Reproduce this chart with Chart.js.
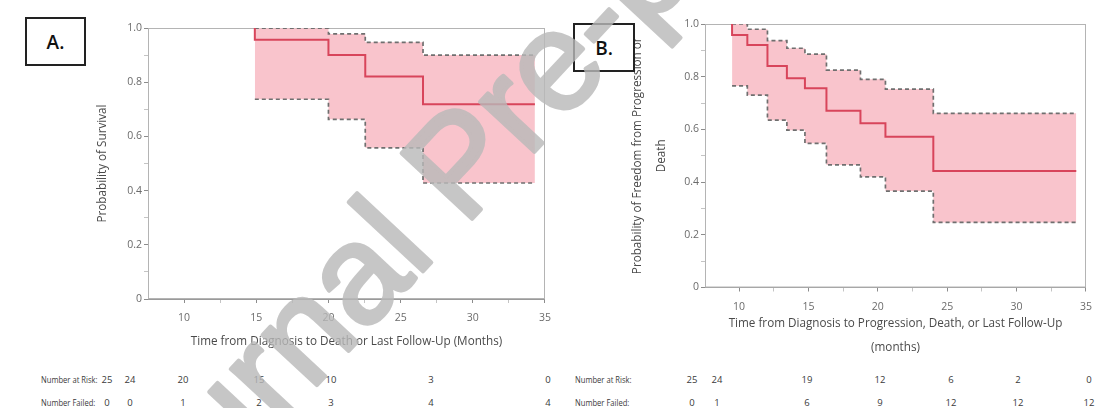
<!DOCTYPE html>
<html>
<head>
<meta charset="utf-8">
<script src="https://cdn.jsdelivr.net/npm/chart.js@4.4.0/dist/chart.umd.min.js"></script>
<style>
  body { margin: 0; background: #fff; width: 1101px; height: 408px; overflow: hidden; position: relative; font-family: "Open Sans", sans-serif; }
  canvas { position: absolute; top: 0; }
  #chartA { left: 0; }
  #chartB { left: 560px; }
  .tag { position: absolute; box-sizing: border-box; border: 2px solid #222; background: #fff;
         display: flex; align-items: center; justify-content: center; font-size: 19px; font-weight: 600; color: #111; }
  .cell { position: absolute; font-size: 9.5px; color: #3a3a3a; white-space: nowrap; transform: translate(-50%, -50%); }
  .rowlab { position: absolute; font-size: 9.5px; color: #3a3a3a; white-space: nowrap;
            transform-origin: 0 50%; transform: translateY(-50%) scaleX(0.8); }
  #mark { position: absolute; left: 0; top: 0; pointer-events: none; opacity: 0.8; }
</style>
</head>
<body>
<canvas id="chartA" width="560" height="360"></canvas>
<canvas id="chartB" width="541" height="360"></canvas>
<div class="tag" style="left:25px;top:17px;width:61px;height:49px">A.</div>
<div class="tag" style="left:573px;top:23px;width:62px;height:49px">B.</div>
<div id="tables"></div>
<canvas id="mark" width="1101" height="408"></canvas>
<script>
// A: overall survival (Kaplan-Meier estimate + 95% band)
const timeA = [14.9, 14.9, 20.0, 22.55, 26.55, 34.3];
const survA = [1.0, 0.957, 0.900, 0.821, 0.719, 0.719];
const bandTimeA = [14.9, 20.0, 22.55, 26.55, 34.3];
const upperA = [0.999, 0.978, 0.947, 0.900, 0.900];
const lowerA = [0.737, 0.663, 0.558, 0.428, 0.428];

// B: freedom from progression or death
const timeB = [9.5, 9.5, 10.6, 12.05, 13.45, 14.75, 16.3, 18.75, 20.55, 24.0, 34.3];
const survB = [1.0, 0.958, 0.920, 0.841, 0.794, 0.756, 0.671, 0.623, 0.572, 0.442, 0.442];
const bandTimeB = [9.5, 10.6, 12.05, 13.45, 14.75, 16.3, 18.75, 20.55, 24.0, 34.3];
const upperB = [1.0, 0.980, 0.937, 0.908, 0.886, 0.825, 0.790, 0.753, 0.661, 0.661];
const lowerB = [0.765, 0.730, 0.635, 0.597, 0.547, 0.465, 0.420, 0.366, 0.247, 0.247];

// ticks
const xMajor = [10, 15, 20, 25, 30, 35];
const xMinor = [12.5, 17.5, 22.5, 27.5, 32.5];
const yMajor = [0, 0.2, 0.4, 0.6, 0.8, 1.0];
const yMinor = [0.1, 0.3, 0.5, 0.7, 0.9];

// risk tables
const rowLabels = ["Number at Risk:", "Number Failed:"];
const atRiskA = [25, 24, 20, 15, 10, 3, 0];
const failedA = [0, 0, 1, 2, 3, 4, 4];
const atRiskB = [25, 24, 19, 12, 6, 2, 0];
const failedB = [0, 1, 6, 9, 12, 12, 12];

Chart.defaults.font.family = '"Open Sans", sans-serif';

const pts = (xs, ys) => xs.map((x, i) => ({ x: x, y: ys[i] }));

const frame = {
  id: "frame",
  beforeDatasetsDraw(chart) {
    const { ctx, chartArea: a } = chart;
    ctx.save();
    ctx.strokeStyle = "#b4b4b4";
    ctx.lineWidth = 1;
    ctx.strokeRect(a.left + 0.5, a.top + 0.5, a.width - 1, a.height - 1);
    ctx.restore();
  },
};

function setTicks(major, minor) {
  return (scale) => {
    scale.ticks = major.concat(minor)
      .filter((v) => v >= scale.min && v <= scale.max)
      .sort((a, b) => a - b)
      .map((v) => ({ value: v }));
  };
}

function makePanel(id, p) {
  return new Chart(document.getElementById(id), {
    type: "line",
    data: {
      datasets: [
        {
          data: pts(p.bandTime, p.upper),
          stepped: true,
          borderColor: "#6f6f6f",
          borderWidth: 1.7,
          borderDash: [4, 3],
          pointRadius: 0,
          fill: false,
          order: 2,
        },
        {
          data: pts(p.bandTime, p.lower),
          stepped: true,
          borderColor: "#6f6f6f",
          borderWidth: 1.7,
          borderDash: [4, 3],
          pointRadius: 0,
          fill: "-1",
          backgroundColor: "#f9c4cc",
          order: 2,
        },
        {
          data: pts(p.time, p.surv),
          stepped: true,
          borderColor: "#d8455b",
          borderWidth: 2,
          pointRadius: 0,
          fill: false,
          order: 1,
        },
      ],
    },
    options: {
      responsive: false,
      animation: false,
      devicePixelRatio: 1,
      layout: { padding: { top: p.top, right: p.right, left: 0, bottom: 0 } },
      plugins: { legend: { display: false }, tooltip: { enabled: false } },
      scales: {
        x: {
          type: "linear",
          min: p.xMin,
          max: 35,
          afterBuildTicks: setTicks(xMajor, xMinor),
          afterFit: (s) => { s.height = p.xHeight; },
          grid: {
            drawOnChartArea: false,
            tickLength: 4,
            tickColor: (c) => (xMajor.includes(c.tick.value) ? "#8c8c8c" : "#c4c4c4"),
          },
          border: { color: "#9a9a9a" },
          ticks: {
            autoSkip: false,
            maxRotation: 0,
            padding: 9,
            color: "#6b6b6b",
            font: { size: 10.5 },
            callback: (v) => (xMajor.includes(v) ? String(v) : ""),
          },
          title: {
            display: true,
            text: p.xTitle,
            color: "#4a4a4a",
            font: { size: 11.7, lineHeight: p.titleLh },
            padding: { top: 0, bottom: p.xTitlePad },
          },
        },
        y: {
          min: 0,
          max: 1,
          afterBuildTicks: setTicks(yMajor, yMinor),
          afterFit: (s) => { s.width = p.yWidth; },
          grid: {
            drawOnChartArea: false,
            tickLength: 4,
            tickColor: (c) => (yMajor.includes(c.tick.value) ? "#8c8c8c" : "#c4c4c4"),
          },
          border: { color: "#9a9a9a" },
          ticks: {
            autoSkip: false,
            padding: 2,
            color: "#6b6b6b",
            font: { size: 10.5 },
            callback: (v) => (yMajor.includes(v) ? (v === 0 ? "0" : v.toFixed(1)) : ""),
          },
          title: {
            display: true,
            text: p.yTitle,
            color: "#4a4a4a",
            font: { size: 11.7, lineHeight: p.titleLh },
            padding: { top: p.yTitlePad, bottom: 0 },
          },
        },
      },
    },
    plugins: [frame],
  });
}

makePanel("chartA", {
  time: timeA, surv: survA, bandTime: bandTimeA, upper: upperA, lower: lowerA,
  xMin: 7.5, top: 28, right: 8, yWidth: 148, xHeight: 61,
  titleLh: 1.2, yTitlePad: 96, xTitlePad: 11,
  xTitle: "Time from Diagnosis to Death or Last Follow-Up (Months)",
  yTitle: "Probability of Survival",
});

makePanel("chartB", {
  time: timeB, surv: survB, bandTime: bandTimeB, upper: upperB, lower: lowerB,
  xMin: 7.55, top: 24, right: 12, yWidth: 145, xHeight: 72.5,
  titleLh: 2.05, yTitlePad: 66, xTitlePad: 0,
  xTitle: ["Time from Diagnosis to Progression, Death, or Last Follow-Up", "(months)"],
  yTitle: ["Probability of Freedom from Progression or", "Death"],
});

// risk tables under each panel
const tables = document.getElementById("tables");
function addTable(labelX, cols, rows) {
  const rowY = [379, 402];
  rows.forEach((vals, r) => {
    const lab = document.createElement("div");
    lab.className = "rowlab";
    lab.style.left = labelX + "px";
    lab.style.top = rowY[r] + "px";
    lab.textContent = rowLabels[r];
    tables.appendChild(lab);
    vals.forEach((v, i) => {
      const c = document.createElement("div");
      c.className = "cell";
      c.style.left = cols[i] + "px";
      c.style.top = rowY[r] + "px";
      c.textContent = v;
      tables.appendChild(c);
    });
  });
}
addTable(41, [107, 130, 183, 259, 331, 431, 548], [atRiskA, failedA]);
addTable(575, [692, 717, 807, 880, 951, 1018, 1089], [atRiskB, failedB]);

// "Journal Pre-proof" watermark
const mk = document.getElementById("mark").getContext("2d");
const wmSize = 140;
mk.font = wmSize + 'px "Liberation Sans"';
mk.fillStyle = "rgb(185,185,185)";
mk.strokeStyle = "rgb(185,185,185)";
mk.lineWidth = 4;
mk.lineJoin = "round";
mk.translate(427, 267);
mk.rotate((-47 * Math.PI) / 180);
const lead = mk.measureText("Journa").width + 0.111 * wmSize;
mk.fillText("Journal Pre-proof", -lead, 0);
mk.strokeText("Journal Pre-proof", -lead, 0);
</script>
</body>
</html>
